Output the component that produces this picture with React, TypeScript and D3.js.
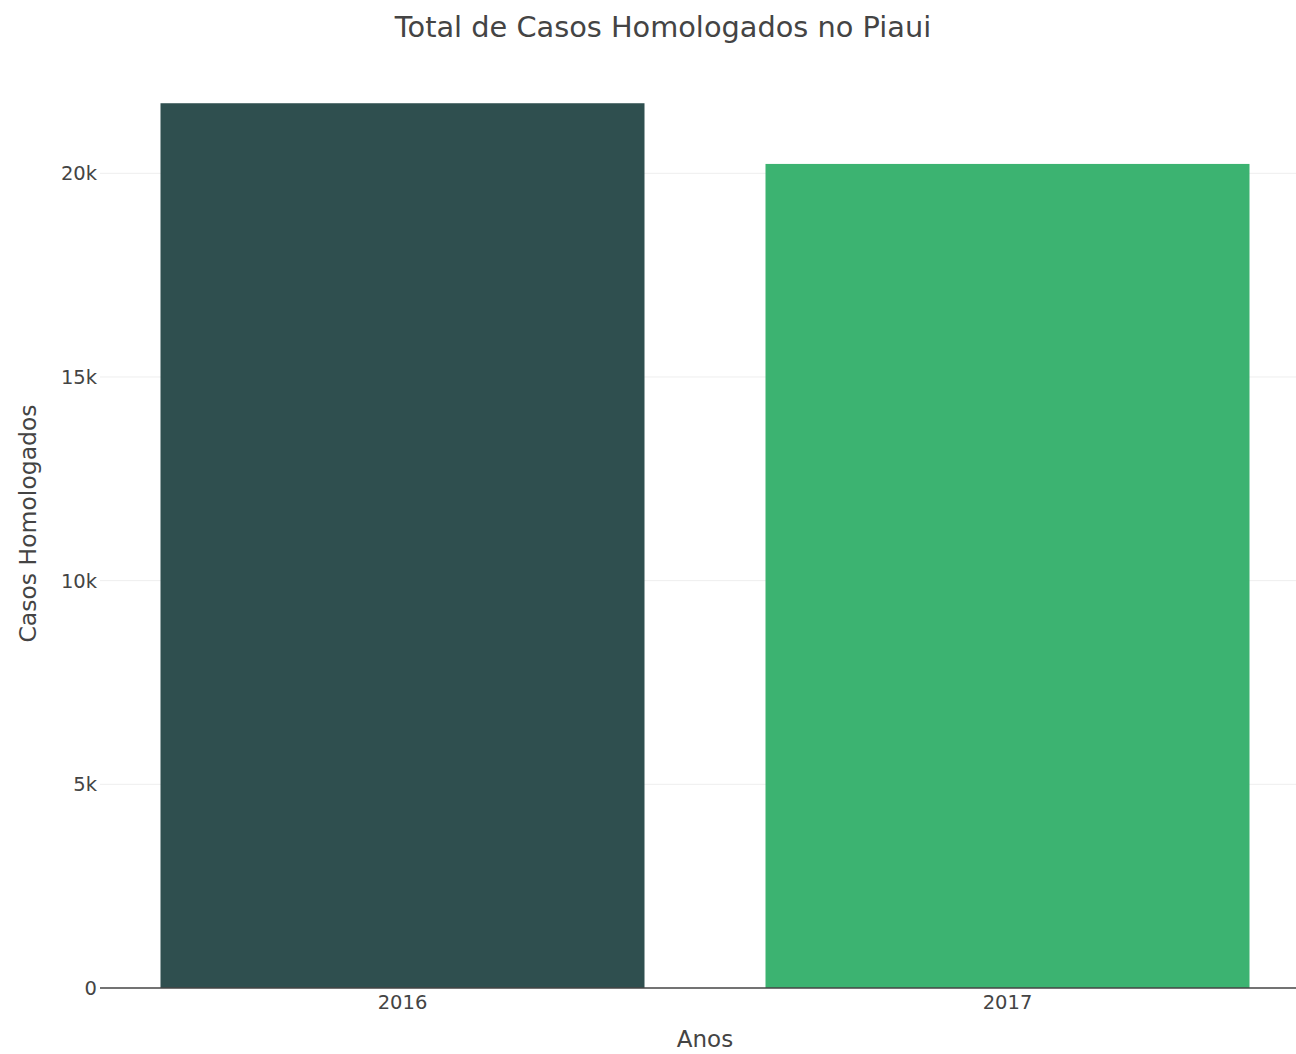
import { useEffect, useRef } from "react";
import * as d3 from "d3";

const years = ["2016", "2017"];
const casos = [21720, 20230];
const barColors = ["#2f4f4f", "#3cb371"];
const yTicks = [0, 5000, 10000, 15000, 20000];

const FONT = "DejaVu Sans, Verdana, sans-serif";

export default function App() {
  const svgRef = useRef<SVGSVGElement>(null);

  useEffect(() => {
    if (!svgRef.current) return;
    const svg = d3.select(svgRef.current);
    svg.selectAll("*").remove();

    const width = 1296;
    const height = 1054;
    const plot = { left: 100, right: 1310, top: 59, bottom: 988 };

    svg.attr("viewBox", `0 0 ${width} ${height}`);

    svg.append("rect").attr("width", width).attr("height", height).attr("fill", "#fff");

    const x = d3
      .scaleBand<string>()
      .domain(years)
      .range([plot.left, plot.right])
      .paddingInner(0.2)
      .paddingOuter(0.1);

    const yMax = (d3.max(casos) ?? 0) * 1.05;
    const y = d3.scaleLinear().domain([0, yMax]).range([plot.bottom, plot.top]);

    // gridlines
    svg
      .append("g")
      .selectAll("line")
      .data(yTicks.filter((t) => t > 0))
      .join("line")
      .attr("x1", plot.left)
      .attr("x2", plot.right)
      .attr("y1", (d) => y(d))
      .attr("y2", (d) => y(d))
      .attr("stroke", "#eeeeee")
      .attr("stroke-width", 1);

    // y tick labels
    svg
      .append("g")
      .selectAll("text")
      .data(yTicks)
      .join("text")
      .attr("x", plot.left - 3)
      .attr("y", (d) => y(d) + 7)
      .attr("text-anchor", "end")
      .attr("fill", "#444")
      .attr("font-size", "19.5px")
      .attr("font-family", FONT)
      .text((d) => (d === 0 ? "0" : `${d / 1000}k`));

    // bars
    svg
      .append("g")
      .selectAll("rect")
      .data(years)
      .join("rect")
      .attr("x", (d) => x(d) ?? 0)
      .attr("width", x.bandwidth())
      .attr("y", (_, i) => y(casos[i]))
      .attr("height", (_, i) => plot.bottom - y(casos[i]))
      .attr("fill", (_, i) => barColors[i]);

    // zero line
    svg
      .append("line")
      .attr("x1", plot.left)
      .attr("x2", plot.right)
      .attr("y1", y(0))
      .attr("y2", y(0))
      .attr("stroke", "#444")
      .attr("stroke-width", 1.5);

    // x tick labels
    svg
      .append("g")
      .selectAll("text")
      .data(years)
      .join("text")
      .attr("x", (d) => (x(d) ?? 0) + x.bandwidth() / 2)
      .attr("y", plot.bottom + 21)
      .attr("text-anchor", "middle")
      .attr("fill", "#444")
      .attr("font-size", "19.5px")
      .attr("font-family", FONT)
      .text((d) => d);

    // axis titles
    svg
      .append("text")
      .attr("x", (plot.left + plot.right) / 2)
      .attr("y", 1047)
      .attr("text-anchor", "middle")
      .attr("fill", "#444")
      .attr("font-size", "23px")
      .attr("font-family", FONT)
      .text("Anos");

    const yMid = (plot.top + plot.bottom) / 2;
    svg
      .append("text")
      .attr("x", 36)
      .attr("y", yMid)
      .attr("text-anchor", "middle")
      .attr("transform", `rotate(-90, 36, ${yMid})`)
      .attr("fill", "#444")
      .attr("font-size", "23.5px")
      .attr("font-family", FONT)
      .text("Casos Homologados");

    // title
    svg
      .append("text")
      .attr("x", 663)
      .attr("y", 37)
      .attr("text-anchor", "middle")
      .attr("fill", "#444")
      .attr("font-size", "28.8px")
      .attr("font-family", FONT)
      .text("Total de Casos Homologados no Piaui");
  }, []);

  return (
    <div style={{ position: "absolute", left: 0, top: 0 }}>
      <svg ref={svgRef} width={1296} height={1054} style={{ display: "block" }} />
    </div>
  );
}
